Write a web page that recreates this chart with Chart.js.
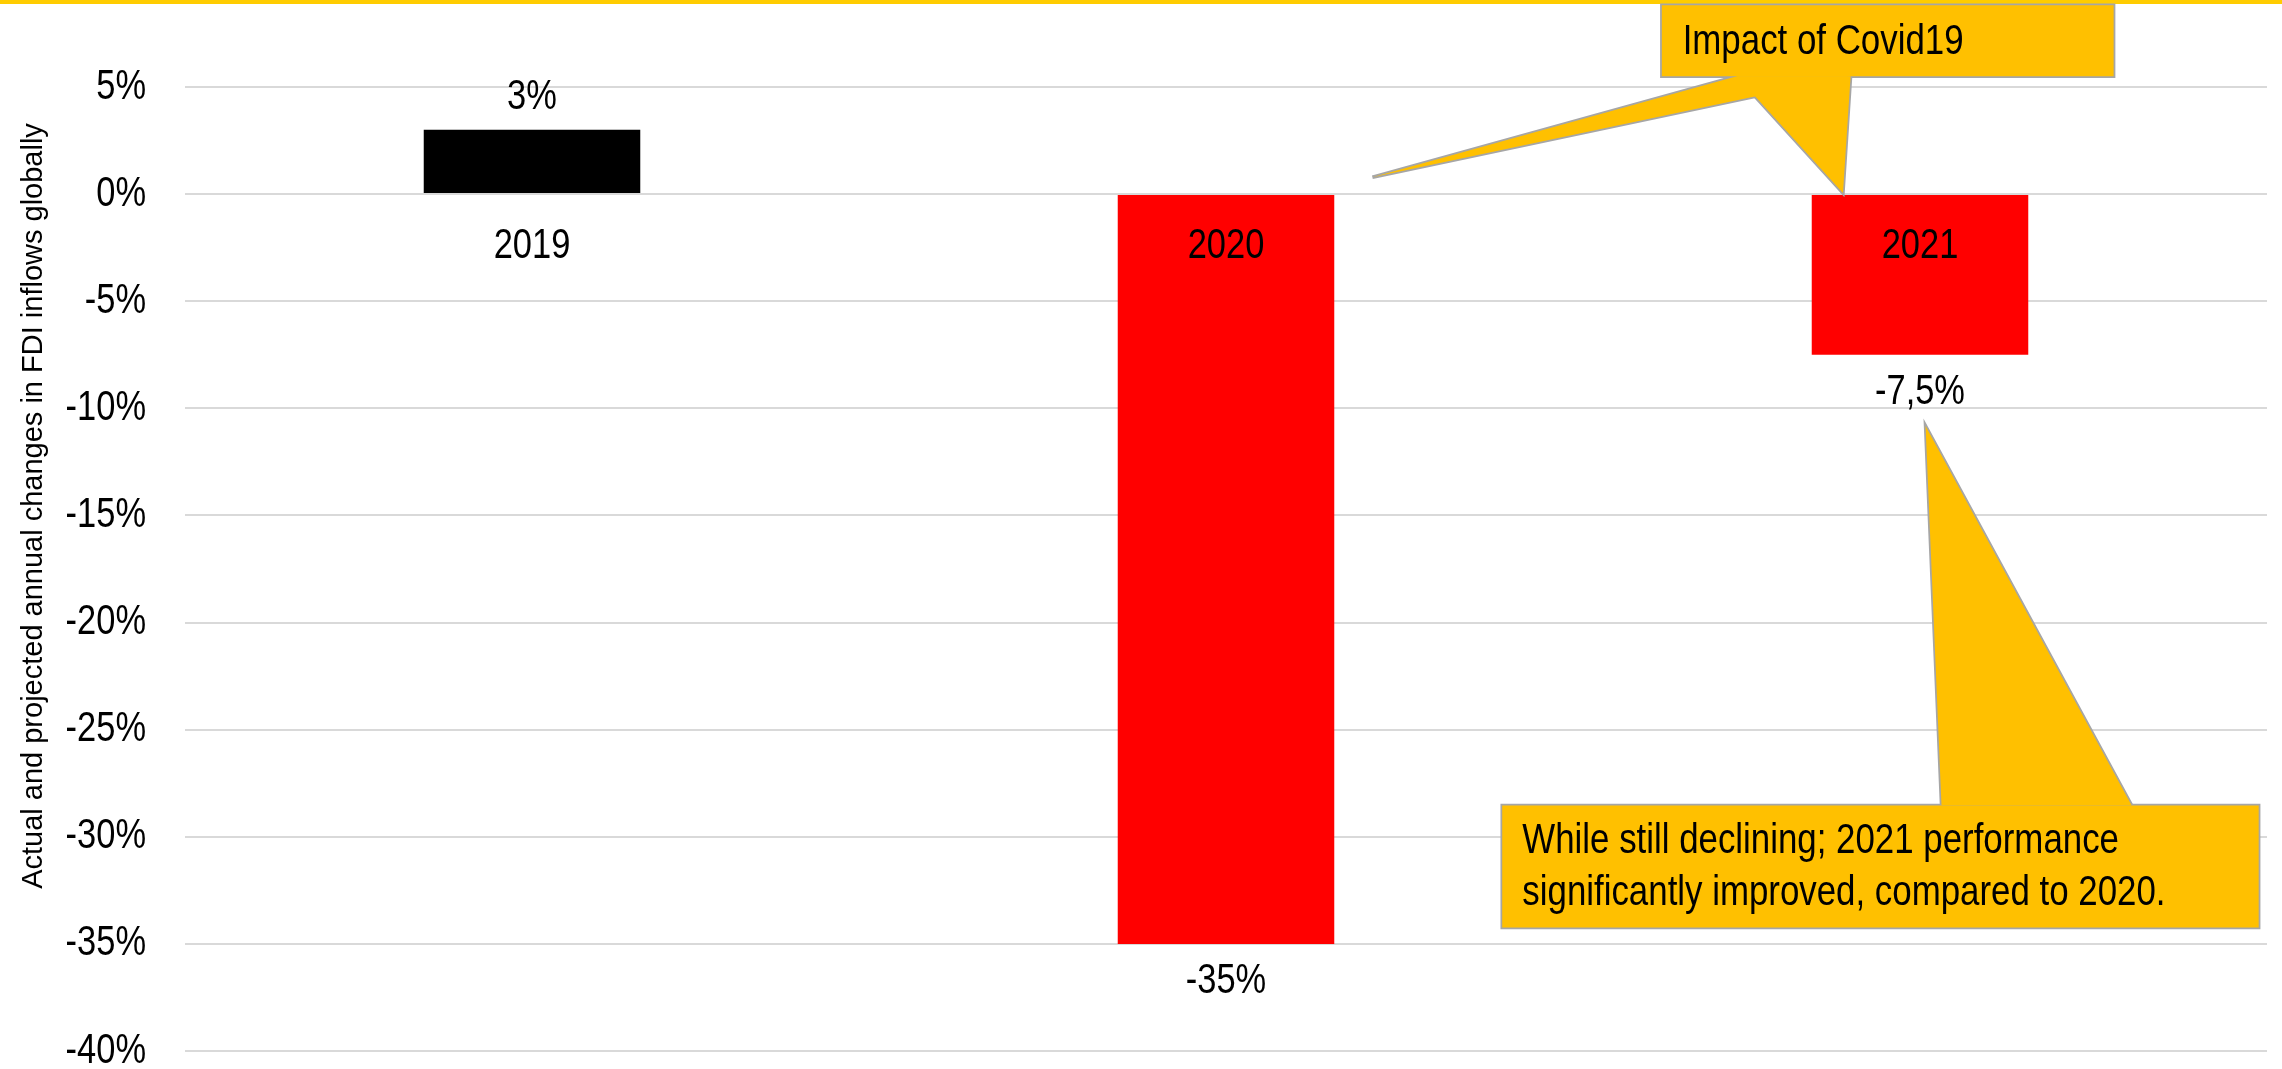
<!DOCTYPE html>
<html>
<head>
<meta charset="utf-8">
<script src="https://cdn.jsdelivr.net/npm/chart.js@4/dist/chart.umd.min.js"></script>
<style>
  html, body { margin: 0; padding: 0; background: #ffffff; }
  #wrap { width: 2282px; height: 1069px; }
</style>
</head>
<body>
<div id="wrap"><canvas id="chart" width="2282" height="1069"></canvas></div>
<script>
const years = ['2019', '2020', '2021'];
const changes = [3, -35, -7.5];
const barColors = ['#000000', '#ff0000', '#ff0000'];
const yMin = -40;
const yMax = 5;
const yStep = 5;

const axisTitle = 'Actual and projected annual changes in FDI inflows globally';
const covidNote = ['Impact of Covid19'];
const recoveryNote = ['While still declining; 2021 performance', 'significantly improved, compared to 2020.'];

// no Arial Narrow here, so squeeze Liberation Sans (same metrics as Arial) sideways
const REGULAR = "'Liberation Sans', Arial, sans-serif";
const NARROW_X = 0.82;

// callouts, in data space: x = category index, y = percent
const callouts = [
  {
    lines: covidNote,
    box: { x0: 1.628, x1: 2.279, y0: 8.82, y1: 5.5 },
    wedges: [
      { base: [1.736, 1.9], baseY: 5.5, tip: [1.211, 0.79] },
      { base: [1.736, 1.9], baseY: 5.5, tip: [1.889, 0.05] },
    ],
    textX: 1.658,
    textY: [7.09],
    size: 42.5,
  },
  {
    lines: recoveryNote,
    box: { x0: 1.398, x1: 2.488, y0: -28.54, y1: -34.24 },
    wedges: [
      { base: [2.031, 2.305], baseY: -28.54, tip: [2.008, -10.82] },
    ],
    textX: 1.427,
    textY: [-30.22, -32.65],
    size: 42.5,
  },
];

function formatPct(v) {
  return String(v).replace('.', ',') + '%';
}

function drawNarrow(ctx, text, x, y, size, align) {
  ctx.save();
  ctx.translate(x, y);
  ctx.scale(NARROW_X, 1);
  ctx.font = `${size}px ${REGULAR}`;
  ctx.fillStyle = '#000000';
  ctx.textAlign = align;
  ctx.textBaseline = 'middle';
  ctx.fillText(text, 0, 0);
  ctx.restore();
}

const decorPlugin = {
  id: 'decor',
  beforeDraw(chart) {
    const { ctx } = chart;
    ctx.save();
    ctx.fillStyle = '#ffffff';
    ctx.fillRect(0, 0, chart.width, chart.height);
    ctx.fillStyle = '#ffcc00';
    ctx.fillRect(0, 0, chart.width, 4);

    ctx.translate(42, 506);
    ctx.rotate(-Math.PI / 2);
    ctx.fillStyle = '#000000';
    ctx.font = `29px ${REGULAR}`;
    ctx.textAlign = 'center';
    ctx.textBaseline = 'alphabetic';
    ctx.fillText(axisTitle, 0, 0);
    ctx.restore();
  },
  afterDatasetsDraw(chart) {
    const { ctx } = chart;
    const xs = chart.scales.x;
    const ys = chart.scales.y;
    const zero = ys.getPixelForValue(0);
    const bars = chart.getDatasetMeta(0).data;

    // y tick labels
    ys.ticks.forEach((t) => {
      drawNarrow(ctx, formatPct(t.value), ys.right - 39, ys.getPixelForValue(t.value), 42, 'right');
    });

    // category and value labels
    bars.forEach((bar, i) => {
      const v = changes[i];
      drawNarrow(ctx, years[i], bar.x, zero + 52, 42, 'center');
      const ly = v >= 0 ? bar.y - 32 : bar.y + 38;
      drawNarrow(ctx, formatPct(v), bar.x, ly, 42, 'center');
    });

    // callouts
    const X = (v) => xs.getPixelForValue(v);
    const Y = (v) => ys.getPixelForValue(v);
    ctx.save();
    callouts.forEach((c) => {
      const shapes = [];
      shapes.push([
        [X(c.box.x0), Y(c.box.y0)], [X(c.box.x1), Y(c.box.y0)],
        [X(c.box.x1), Y(c.box.y1)], [X(c.box.x0), Y(c.box.y1)],
      ]);
      c.wedges.forEach((w) => {
        shapes.push([
          [X(w.base[0]), Y(w.baseY)], [X(w.tip[0]), Y(w.tip[1])], [X(w.base[1]), Y(w.baseY)],
        ]);
      });
      const trace = (pts) => {
        ctx.beginPath();
        pts.forEach(([px, py], k) => (k ? ctx.lineTo(px, py) : ctx.moveTo(px, py)));
        ctx.closePath();
      };
      // stroke first, then fill over it so the seams between box and wedges vanish
      ctx.strokeStyle = '#a6a6a6';
      ctx.lineWidth = 3.5;
      ctx.lineJoin = 'miter';
      shapes.forEach((s) => { trace(s); ctx.stroke(); });
      ctx.fillStyle = '#ffc000';
      shapes.forEach((s) => { trace(s); ctx.fill(); });

      c.lines.forEach((line, k) => drawNarrow(ctx, line, X(c.textX), Y(c.textY[k]), c.size, 'left'));
    });
    ctx.restore();
  },
};

new Chart(document.getElementById('chart'), {
  type: 'bar',
  data: {
    labels: years,
    datasets: [
      {
        data: changes,
        backgroundColor: barColors,
        borderWidth: 0,
        categoryPercentage: 1,
        barPercentage: 0.312,
      },
    ],
  },
  options: {
    responsive: false,
    animation: false,
    devicePixelRatio: 1,
    layout: { padding: { left: 0, top: 87, right: 15, bottom: 18 } },
    plugins: {
      legend: { display: false },
      tooltip: { enabled: false },
    },
    scales: {
      x: {
        display: false,
        grid: { display: false },
      },
      y: {
        min: yMin,
        max: yMax,
        afterFit(scale) { scale.width = 185; },
        border: { display: false },
        grid: { color: '#d9d9d9', lineWidth: 2, drawTicks: false },
        ticks: {
          display: false,
          stepSize: yStep,
        },
      },
    },
  },
  plugins: [decorPlugin],
});
</script>
</body>
</html>
